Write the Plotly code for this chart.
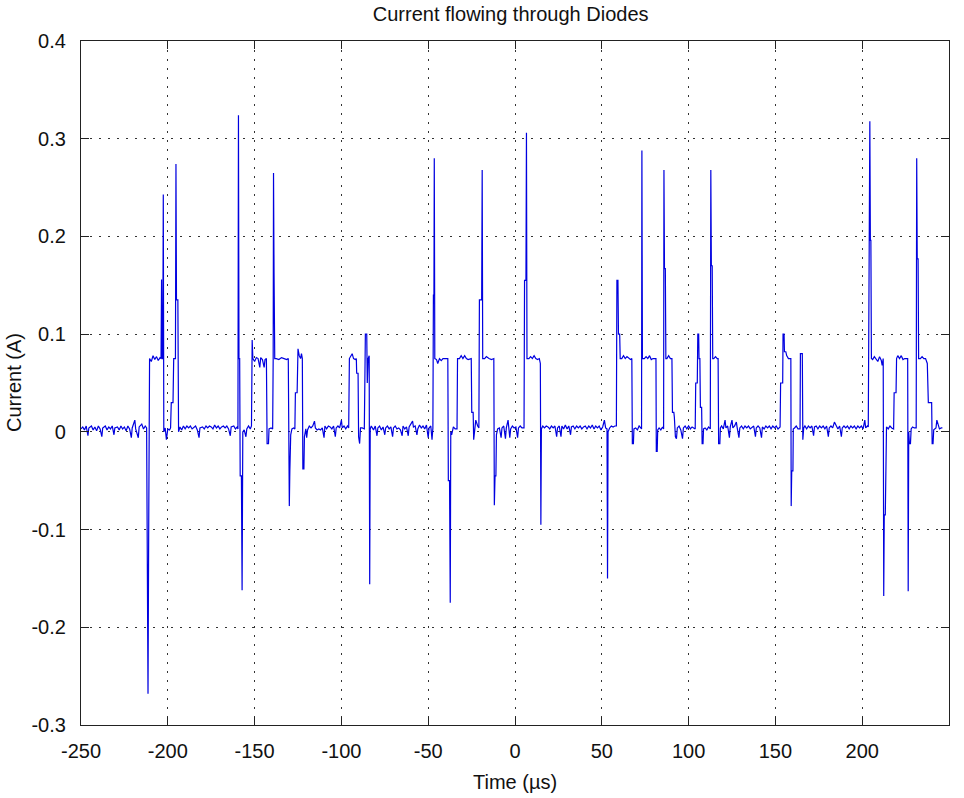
import plotly.graph_objects as go

# ---- tick definitions ----
x_ticks = [-250, -200, -150, -100, -50, 0, 50, 100, 150, 200, 250]
x_tick_labels = ["-250", "-200", "-150", "-100", "-50", "0", "50", "100", "150", "200", "250"]
y_ticks = [-0.3, -0.2, -0.1, 0, 0.1, 0.2, 0.3, 0.4]
y_tick_labels = ["-0.3", "-0.2", "-0.1", "0", "0.1", "0.2", "0.3", "0.4"]

# ---- waveform samples (time in µs, current in A) ----
t_seg1 = [-250, -249, -248, -247, -246, -245.5, -244, -243, -242, -241, -240, -239, -238, -237.5,
          -236, -235, -234, -233, -232, -231, -230.5, -229, -228, -227, -226, -225, -224, -223,
          -222, -221, -220.5, -219, -218.5, -217, -216.5, -215, -214, -213, -212.2]
i_seg1 = [0.003, 0.005, 0.002, 0.006, -0.004, 0.004, 0.006, 0.002, 0.005, 0.001, 0.006, 0.003, -0.005, 0.004,
          0.006, 0.002, 0.005, 0.003, 0.006, -0.003, 0.004, 0.005, 0.002, 0.006, 0.003, 0.005, 0.001, 0.006,
          0.003, -0.006, 0.004, 0.012, 0.003, -0.006, 0.005, 0.008, 0.003, 0.006, 0.004]

t_seg2 = [-211.8, -211.4, -211.0, -210.8, -210.5, -209.5, -208.5, -207.5, -206.5, -205.5, -204.5, -203.9,
          -203.6, -203.3, -202.9, -202.6, -202.3, -201.5, -200.8, -200, -199, -198.4, -198.0, -197.0,
          -196.6, -195.6, -195.3, -195.0, -194.2, -193.8]
i_seg2 = [-0.1, -0.268, -0.1, 0.06, 0.075, 0.072, 0.078, 0.074, 0.077, 0.073, 0.076, 0.075,
          0.156, 0.075, 0.075, 0.243, 0.0, 0.004, -0.008, 0.003, 0.002, 0.004, 0.03, 0.03,
          0.075, 0.075, 0.274, 0.135, 0.135, 0.0]

t_seg3 = [-193, -192, -191, -190, -189, -188, -187, -186, -185, -184, -183, -182, -181.5, -180, -179,
          -178, -177, -176, -175, -174, -173, -172, -171, -170, -169, -168, -167, -166, -165, -164,
          -163.5, -162, -161, -160, -159.6]
i_seg3 = [0.005, 0.002, 0.006, 0.003, 0.006, 0.004, 0.006, 0.003, 0.005, 0.006, 0.002, -0.006, 0.004, 0.005, 0.003,
          0.006, 0.004, 0.006, 0.005, 0.003, 0.007, 0.004, 0.006, 0.003, 0.005, 0.006, 0.004, 0.006, 0.003, -0.004,
          0.005, 0.006, 0.003, 0.005, 0.003]

t_seg4 = [-159.3, -159.0, -158.6, -158.3, -157.6, -157.2, -156.8, -156, -155, -154.5, -153.5, -152.5,
          -151.8, -151.4, -151.0, -150, -149, -148, -147, -146.5, -145.5, -144.5, -144, -143.2, -142.8,
          -142.0, -141.7, -140.5, -139.6]
i_seg4 = [0.324, 0.075, 0.075, -0.045, -0.045, -0.162, 0.0, 0.002, -0.005, 0.003, 0.006, 0.003,
          0.006, 0.094, 0.075, 0.072, 0.076, 0.075, 0.066, 0.076, 0.074, 0.066, 0.074, 0.075, -0.012,
          -0.012, 0.003, 0.004, 0.003]

t_seg5 = [-139.3, -139.1, -138.8, -138.4, -137.5, -136, -134.5, -133, -131.5, -130.6, -130.3, -130.0,
          -129.7, -129.2, -128.5, -127.5, -126.8, -126.5, -125.5, -125.0, -124.3, -123.5, -123.0, -122.5,
          -122.2, -121.6, -121.3, -120.5]
i_seg5 = [0.075, 0.265, 0.163, 0.075, 0.075, 0.074, 0.076, 0.075, 0.074, 0.075, -0.04, -0.076,
          -0.04, -0.003, 0.003, 0.004, 0.003, 0.04, 0.04, 0.085, 0.078, 0.075, 0.08, 0.075,
          -0.038, -0.038, -0.005, 0.003]

t_seg6 = [-120, -119.5, -118.5, -117.5, -116.5, -115.5, -115, -114, -113, -112, -111, -110, -109.5, -108.5,
          -107.5, -106.5, -105.5, -104.5, -103.5, -103, -102, -101, -100, -99.5, -98.5, -97.5, -96.5, -95.8]
i_seg6 = [-0.006, 0.002, 0.006, 0.004, 0.006, 0.011, 0.004, 0.002, 0.003, 0.002, 0.004, -0.006, 0.006, 0.003,
          0.006, 0.005, 0.003, 0.006, -0.005, 0.004, 0.006, 0.004, 0.012, 0.004, 0.006, 0.003, 0.006, 0.004]

t_seg7 = [-95.4, -94.5, -93.8, -93, -92, -91.4, -91.2, -90.4, -90.1, -89.5, -89, -88, -87.2, -86.8,
          -86.5, -86.2, -85.4, -85.1, -84.6, -84.0, -83.7, -83.4, -82.8]
i_seg7 = [0.075, 0.078, 0.08, 0.075, 0.074, 0.075, 0.06, 0.06, -0.005, -0.012, 0.004, 0.004, 0.003, 0.003,
          0.05, 0.1, 0.1, 0.05, 0.075, 0.078, -0.156, 0.003, 0.006]

t_seg8 = [-81.5, -80.5, -79.5, -79, -78, -77, -76, -75, -74.5, -73.5, -72.5, -71.5, -70.5, -70, -69, -68,
          -67, -66, -65, -64.5, -63.5, -62.5, -61.5, -61, -60, -59, -58.5, -57.5, -56.5, -56, -55, -54,
          -53, -52, -51, -50, -49.5, -48.5, -47.8, -47.3]
i_seg8 = [0.002, 0.006, -0.004, 0.004, 0.006, 0.002, 0.005, -0.003, 0.004, 0.006, 0.003, 0.005, -0.005, 0.004, 0.006, 0.003,
          0.004, 0.002, -0.004, 0.006, 0.003, 0.005, -0.004, 0.005, 0.008, 0.011, 0.005, 0.006, -0.003, 0.003, 0.007, 0.004,
          0.006, 0.003, 0.007, -0.006, 0.004, 0.006, -0.008, 0.004]

t_seg9 = [-47.0, -46.7, -46.5, -46.2, -45.2, -44.5, -43.5, -42.5, -41.5, -40.5, -39.5, -38.7, -38.4, -37.7,
          -37.3, -37.0, -36.5, -35.5, -34.5, -33.4, -33.1, -32, -31, -30, -29, -28, -27, -26, -25.2, -24.9,
          -24.1, -23.8, -23.0, -22.6, -21.5, -20.8, -20.5, -19.2, -18.9, -18.6, -17.5, -16.5, -15, -13.5,
          -12.2, -11.9, -11.5, -11.0, -10.7, -10]
i_seg9 = [0.14, 0.14, 0.28, 0.075, 0.074, 0.07, 0.075, 0.073, 0.075, 0.075, 0.075, 0.075, -0.05, -0.05,
          -0.175, 0.0, -0.003, 0.005, 0.003, 0.003, 0.075, 0.075, 0.078, 0.075, 0.078, 0.075, 0.074, 0.075, 0.075, 0.02,
          0.02, -0.008, 0.01, 0.012, 0.006, 0.004, 0.135, 0.135, 0.268, 0.075, 0.075, 0.077, 0.075, 0.074,
          0.075, -0.075, -0.045, -0.045, -0.003, 0.003]

t_seg10 = [-9, -8, -7.5, -6.5, -5.5, -5, -4, -3.5, -3, -2.5, -1.5, -0.5, 0.5, 1.5, 2, 3, 4, 5.2]
i_seg10 = [0.004, -0.006, 0.004, 0.006, -0.007, 0.004, 0.012, 0.004, -0.006, 0.003, 0.006, 0.004, 0.005, -0.006,
           0.004, 0.006, 0.004, 0.004]

t_seg11 = [5.5, 6.3, 6.6, 6.9, 8, 9, 10, 11, 12, 13, 14, 14.6, 14.9, 15.2]
i_seg11 = [0.155, 0.155, 0.306, 0.075, 0.075, 0.077, 0.075, 0.078, 0.075, 0.074, 0.075, 0.07, -0.095, 0.003]

t_seg12 = [16, 17, 18, 19, 20, 21, 22, 23, 24, 24.5, 25.5, 26.5, 27, 28, 29, 30, 31, 32, 32.5, 33.5, 34.5,
           35.5, 36.5, 37.5, 38.5, 39.5, 40.5, 41.5, 42.5, 43.5, 44.5, 45.5, 46.5, 47.5, 48.5, 49.5, 50.5,
           51.5, 52.2, 53.0]
i_seg12 = [0.006, 0.004, 0.006, 0.005, 0.003, 0.006, 0.004, 0.006, -0.005, 0.004, 0.006, -0.005, 0.006, 0.003,
           0.007, 0.003, 0.006, -0.003, 0.005, 0.006, 0.003, 0.006, 0.004, 0.006, 0.003, 0.005, 0.006, 0.003,
           0.006, 0.004, 0.007, 0.003, 0.006, 0.004, 0.006, 0.002, 0.005, 0.012, 0.004, 0.003]

t_seg13 = [53.3, 53.6, 54.5, 55.5, 56.5, 57.5, 58.4, 58.7, 59.3, 59.6, 60.3, 60.6, 61.5, 62.5, 63.5, 64.5,
           65.5, 66.5, 67.3, 67.6, 68.2, 68.5, 69.5, 70.5, 71.5, 72.5, 72.9, 73.1, 73.4, 74.5, 75.5, 76.5,
           77.5, 78.5, 79.5, 80.5, 81.2, 81.4, 81.9, 82.2, 83, 84, 85, 85.6, 85.8, 86.1, 86.6, 86.9, 87.5,
           88.5, 89.5, 90.4, 90.7, 91.5, 91.8, 92.4, 93, 93.5, 94.5, 95.5, 96.5, 97, 98, 99, 100, 101, 102,
           103, 103.8]
i_seg13 = [-0.15, 0.0, 0.004, 0.006, 0.005, 0.006, 0.006, 0.155, 0.155, 0.1, 0.1, 0.075, 0.075, 0.078, 0.075, 0.077,
           0.075, 0.074, 0.075, -0.012, -0.012, 0.003, 0.004, 0.002, 0.006, 0.003, 0.003, 0.288, 0.075, 0.075, 0.077, 0.075,
           0.078, 0.074, 0.075, 0.075, 0.075, -0.02, -0.02, 0.002, 0.004, 0.002, 0.005, 0.003, 0.268, 0.167, 0.167, 0.075, 0.075,
           0.078, 0.075, 0.075, 0.02, 0.02, 0.015, -0.005, -0.007, 0.004, 0.006, 0.002, -0.007, 0.004, 0.006, 0.003, 0.006, 0.003, 0.005,
           0.004, 0.003]

t_seg14 = [104.1, 105.0, 105.3, 105.8, 106.0, 106.5, 106.8, 107.5, 107.8, 108.3, 108.6, 109.5, 110.5, 111.5,
           112.5, 112.8, 113.1, 113.6, 113.9, 114.5, 115.5, 116.5, 117.0, 117.3, 118.0, 118.3]
i_seg14 = [0.05, 0.05, 0.1, 0.1, 0.075, 0.075, 0.025, 0.025, -0.012, -0.012, 0.003, 0.004, 0.002, 0.005,
           0.003, 0.268, 0.17, 0.17, 0.075, 0.075, 0.077, 0.075, 0.075, -0.012, -0.012, 0.004]

t_seg15 = [119, 120, 121, 121.5, 122.5, 123.5, 124, 125, 125.5, 126.5, 127.5, 128, 129, 129.5, 130.5, 131.5,
           132.5, 133.5, 134.5, 135.5, 136.5, 137.5, 138.5, 139, 140, 141, 142, 142.5, 143.5, 144.5, 145.5,
           146.5, 147.5, 148.5, 149.5, 150.5, 151.5, 152.7]
i_seg15 = [0.006, 0.003, 0.012, 0.004, 0.006, -0.006, 0.005, 0.012, 0.004, 0.006, 0.01, 0.004, -0.006, 0.004, 0.006, 0.003,
           0.006, 0.004, 0.006, 0.003, 0.005, 0.006, -0.005, 0.004, 0.006, 0.004, -0.006, 0.005, 0.003, 0.006, 0.004,
           0.006, 0.003, 0.006, 0.004, 0.006, 0.003, 0.005]

t_seg16 = [153.0, 154.2, 154.4, 155.0, 155.2, 156, 156.5, 157.5, 158.5, 158.9, 159.1, 159.4, 160.1, 160.3,
           161, 162, 163, 164.2, 164.4, 165.5, 165.8, 166.3]
i_seg16 = [0.05, 0.05, 0.1, 0.1, 0.082, 0.082, 0.078, 0.075, 0.075, 0.075, -0.076, -0.04, -0.04, 0.003,
           0.004, 0.006, 0.003, 0.003, 0.08, 0.08, -0.008, 0.004]

t_seg17 = [167, 168, 169, 170, 171, 172, 172.5, 173.5, 174.5, 175.5, 176.5, 177.5, 178.5, 179.5, 180.5, 181,
           182, 183, 184, 185, 186, 187, 188, 188.5, 189.5, 190.5, 191.5, 192.5, 193.5, 194.5, 195.5, 196.5,
           197.5, 198.5, 199.5, 200.5, 201.5, 202, 203, 203.5]
i_seg17 = [0.006, 0.003, 0.006, 0.004, 0.006, -0.004, 0.005, 0.006, 0.003, 0.006, 0.004, 0.006, 0.003, 0.006, -0.005, 0.004,
           0.006, 0.004, 0.01, 0.006, 0.003, 0.006, -0.005, 0.004, 0.006, 0.004, 0.006, 0.003, 0.006, 0.004, 0.006, 0.003,
           0.006, 0.004, 0.006, 0.003, 0.012, 0.004, 0.006, 0.005]

t_seg18 = [203.8, 204.1, 204.4, 204.7, 205.0, 205.3, 206, 207, 208, 209, 210, 211, 211.5, 212.1, 212.4, 212.7,
           213.3, 213.6, 214, 215, 216, 217, 218.1, 218.4, 219.5, 219.8, 220.5, 221.5, 222.5, 223.5, 224.5,
           225.5, 226.2, 226.5, 226.8, 227.2, 227.8, 228.2, 229, 230, 231.1, 231.4, 231.7, 232.2, 232.5, 233.5,
           234.5, 235.5, 236.5, 237.5, 238.1, 239.3, 240.0, 240.3, 240.8, 241.2, 242.5, 243, 243.5, 244.5,
           245.5, 246.2]
i_seg18 = [0.196, 0.196, 0.318, 0.196, 0.196, 0.075, 0.074, 0.077, 0.075, 0.072, 0.077, 0.073, 0.068, 0.075, -0.168, -0.085,
           -0.085, 0.0, 0.005, 0.003, 0.006, 0.004, 0.003, 0.04, 0.04, 0.075, 0.078, 0.075, 0.078, 0.074, 0.075,
           0.075, 0.075, -0.163, 0.0, -0.012, -0.012, 0.003, 0.005, 0.004, 0.004, 0.28, 0.177, 0.177, 0.075, 0.075,
           0.077, 0.075, 0.075, 0.07, 0.03, 0.03, 0.03, -0.012, -0.012, 0.002, 0.004, 0.012, 0.008, 0.003,
           0.004, 0.004]

t_parts = [t_seg1, t_seg2, t_seg3, t_seg4, t_seg5, t_seg6, t_seg7, t_seg8, t_seg9,
           t_seg10, t_seg11, t_seg12, t_seg13, t_seg14, t_seg15, t_seg16, t_seg17, t_seg18]
i_parts = [i_seg1, i_seg2, i_seg3, i_seg4, i_seg5, i_seg6, i_seg7, i_seg8, i_seg9,
           i_seg10, i_seg11, i_seg12, i_seg13, i_seg14, i_seg15, i_seg16, i_seg17, i_seg18]

time_us = []
current_a = []
for k, (tp, ip) in enumerate(zip(t_parts, i_parts)):
    assert len(tp) == len(ip), f"segment {k+1}: {len(tp)} vs {len(ip)}"
    time_us += tp
    current_a += ip

FONT = "Liberation Sans, Arial, Helvetica, sans-serif"

fig = go.Figure(
    go.Scatter(x=time_us, y=current_a, mode="lines",
               line=dict(color="#0000e0", width=1.2), hoverinfo="skip")
)

axis_common = dict(
    showline=True, linecolor="#222222", linewidth=1.3, mirror="ticks",
    ticks="inside", ticklen=8, tickwidth=1.3, tickcolor="#222222",
    showgrid=True, gridcolor="#333333", gridwidth=1, griddash="2px,7px",
    zeroline=False, tickfont=dict(family=FONT, size=20, color="#111111"),
)

fig.update_xaxes(range=[-250, 250], tickmode="array", tickvals=x_ticks,
                 ticktext=x_tick_labels, ticklabelstandoff=8, **axis_common)
fig.update_yaxes(range=[-0.3, 0.4], tickmode="array", tickvals=y_ticks,
                 ticktext=y_tick_labels, ticklabelstandoff=10, **axis_common)

fig.update_layout(
    width=964, height=798,
    margin=dict(l=81, r=15, t=41, b=73),
    paper_bgcolor="white", plot_bgcolor="white",
    showlegend=False,
    font=dict(family=FONT, size=20, color="#111111"),
    title=dict(text="Current flowing through Diodes", x=0.495, xref="paper",
               y=1 - 14 / 798, yref="container", xanchor="center", yanchor="middle",
               font=dict(family=FONT, size=20, color="#111111")),
    annotations=[
        dict(text="Time (µs)", xref="paper", yref="paper", x=0.5, y=-57 / 684,
             xanchor="center", yanchor="middle", showarrow=False,
             font=dict(family=FONT, size=20, color="#111111")),
        dict(text="Current (A)", xref="paper", yref="paper", x=-67 / 868, y=0.5,
             xanchor="center", yanchor="middle", textangle=-90, showarrow=False,
             font=dict(family=FONT, size=20, color="#111111")),
    ],
)

fig.write_html(
    "out.html",
    config={"displayModeBar": False},
    post_script="document.body.style.margin='0';document.body.style.overflow='hidden';",
)
